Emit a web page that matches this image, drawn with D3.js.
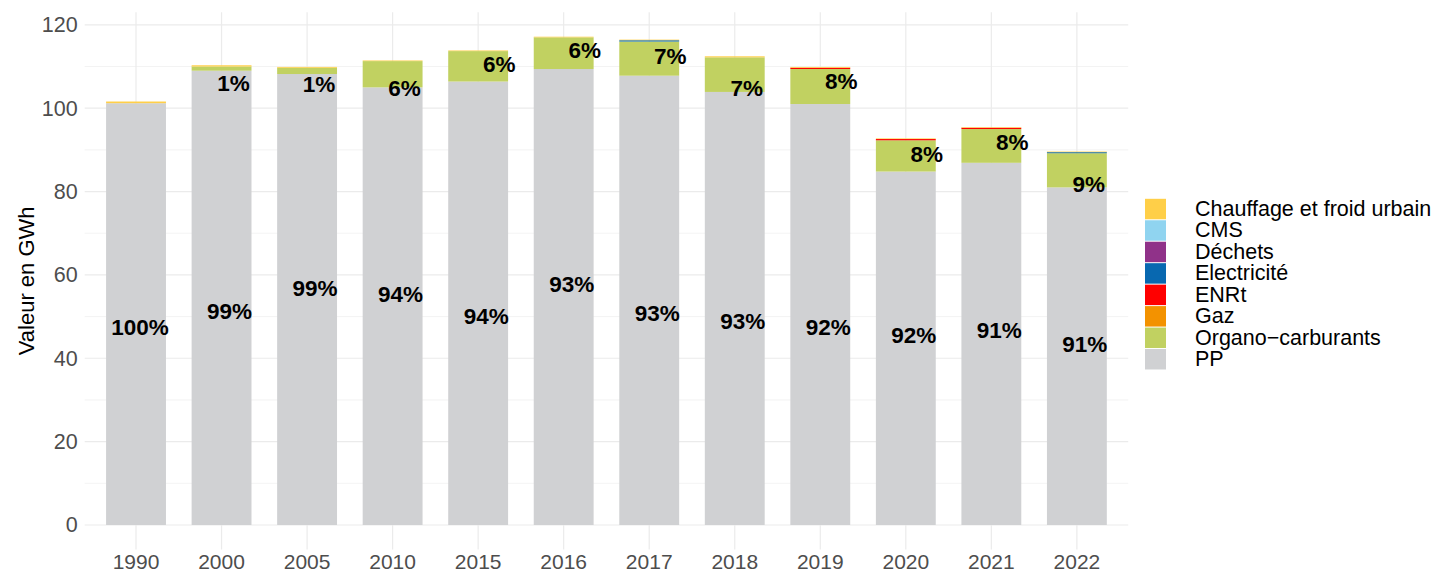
<!DOCTYPE html>
<html>
<head>
<meta charset="utf-8">
<script src="https://cdn.jsdelivr.net/npm/d3@7"></script>
<style>
  body { margin: 0; background: #fff; }
  svg text { font-family: "Liberation Sans", Arial, sans-serif; }
</style>
</head>
<body>
<div id="chart"></div>
<script>
const WIDTH = 1439
const HEIGHT = 574

// categories and series (bottom to top of each stack)
const YEARS = ["1990", "2000", "2005", "2010", "2015", "2016", "2017", "2018", "2019", "2020", "2021", "2022"]
const SERIES = ["PP", "Organo\u2212carburants", "Gaz", "ENRt", "Electricit\u00e9", "D\u00e9chets", "CMS", "Chauffage et froid urbain"]

const PP = [101.2, 109.0, 108.2, 105.0, 106.4, 109.4, 107.8, 103.9, 101.0, 84.8, 86.9, 81.0]
const ORGANO = [0, 1.0, 1.5, 6.3, 7.3, 7.6, 8.2, 8.3, 8.4, 7.5, 8.1, 8.2]
const GAZ = [0, 0, 0, 0, 0, 0, 0, 0, 0, 0, 0, 0]
const ENRT = [0, 0, 0, 0, 0, 0, 0, 0, 0.3, 0.3, 0.3, 0]
const ELEC = [0, 0, 0, 0, 0, 0, 0.3, 0, 0, 0, 0, 0.25]
const DECHETS = [0, 0, 0, 0, 0, 0, 0, 0, 0, 0, 0, 0]
const CMS = [0, 0, 0, 0, 0, 0, 0, 0, 0, 0, 0, 0]
const CHAUFFAGE = [0.4, 0.3, 0.2, 0.15, 0.15, 0.15, 0.15, 0.25, 0.2, 0.15, 0.15, 0.15]

// labels as printed on the chart, with the value where each one sits
const PP_PCT = ["100%", "99%", "99%", "94%", "94%", "93%", "93%", "93%", "92%", "92%", "91%", "91%"]
const PP_LABEL_AT = [47.4, 51.2, 56.8, 55.4, 50.0, 57.6, 50.8, 48.8, 47.4, 45.4, 46.6, 43.4]
const ORG_PCT = [null, "1%", "1%", "6%", "6%", "6%", "7%", "7%", "8%", "8%", "8%", "9%"]
const ORG_LABEL_AT = [null, 105.9, 105.7, 104.8, 110.4, 113.8, 112.3, 104.7, 106.4, 89.0, 91.8, 81.8]
const ORG_NUDGE = [0, 12, 12, 12, 21, 21, 21, 12, 21, 21, 21, 12]

const Y_TICKS = [0, 20, 40, 60, 80, 100, 120]
const Y_MINOR = [10, 30, 50, 70, 90, 110]

const COLORS = {
  "PP": "#d0d1d3",
  "Organo\u2212carburants": "#c1d161",
  "Gaz": "#f39200",
  "ENRt": "#ff0000",
  "Electricit\u00e9": "#0868b0",
  "D\u00e9chets": "#903289",
  "CMS": "#90d4f0",
  "Chauffage et froid urbain": "#ffcf48"
}

const cols = [PP, ORGANO, GAZ, ENRT, ELEC, DECHETS, CMS, CHAUFFAGE]
const rows = YEARS.map((y, i) => {
  const r = { year: y }
  SERIES.forEach((s, j) => r[s] = cols[j][i])
  return r
})
const stacked = d3.stack().keys(SERIES)(rows)
const totals = rows.map((r) => d3.sum(SERIES, (s) => r[s]))

const PANEL_LEFT = 84.7
const PANEL_RIGHT = 1128.2
const PANEL_TOP = 12.3
const PANEL_BOTTOM = 549.4

const maxTotal = d3.max(totals)
const yScale = d3.scaleLinear()
  .domain([-maxTotal * 0.05, maxTotal * 1.05])
  .range([PANEL_BOTTOM, PANEL_TOP])

const xScale = d3.scaleBand()
  .domain(YEARS)
  .range([PANEL_LEFT, PANEL_RIGHT])
  .paddingInner(0.3)
  .paddingOuter(0.25)

const cx = (y) => xScale(y) + xScale.bandwidth() / 2

let svg = d3.select("#chart")
  .append("svg")
  .attr("width", WIDTH)
  .attr("height", HEIGHT)

// grid
const grid = svg.append("g")
grid.selectAll(".minor")
  .data(Y_MINOR)
  .enter()
  .append("line")
  .attr("x1", PANEL_LEFT).attr("x2", PANEL_RIGHT)
  .attr("y1", (d) => yScale(d)).attr("y2", (d) => yScale(d))
  .attr("stroke", "#ebebeb").attr("stroke-width", 0.6)
grid.selectAll(".major")
  .data(Y_TICKS)
  .enter()
  .append("line")
  .attr("x1", PANEL_LEFT).attr("x2", PANEL_RIGHT)
  .attr("y1", (d) => yScale(d)).attr("y2", (d) => yScale(d))
  .attr("stroke", "#ebebeb").attr("stroke-width", 1.2)
grid.selectAll(".vert")
  .data(YEARS)
  .enter()
  .append("line")
  .attr("x1", cx).attr("x2", cx)
  .attr("y1", PANEL_TOP).attr("y2", PANEL_BOTTOM)
  .attr("stroke", "#ebebeb").attr("stroke-width", 1.2)

// bars
svg.append("g")
  .selectAll("g")
  .data(stacked)
  .enter()
  .append("g")
  .attr("fill", (d) => COLORS[d.key])
  .selectAll("rect")
  .data((d) => d)
  .enter()
  .append("rect")
  .attr("x", (d) => xScale(d.data.year))
  .attr("y", (d) => yScale(d[1]))
  .attr("width", xScale.bandwidth())
  .attr("height", (d) => Math.max(0, yScale(d[0]) - yScale(d[1])))

// percentage labels
const labels = svg.append("g")
  .attr("font-weight", "bold")
  .attr("font-size", "22.5px")
  .attr("fill", "#000")
  .attr("text-anchor", "middle")
  .attr("dominant-baseline", "central")

labels.selectAll(".pp")
  .data(YEARS)
  .enter()
  .append("text")
  .attr("x", (d, i) => cx(d) + (i === 0 ? 4 : 8))
  .attr("y", (d, i) => yScale(PP_LABEL_AT[i]))
  .text((d, i) => PP_PCT[i])

labels.selectAll(".org")
  .data(YEARS.filter((d, i) => ORG_PCT[i] !== null))
  .enter()
  .append("text")
  .attr("x", (d) => cx(d) + ORG_NUDGE[YEARS.indexOf(d)])
  .attr("y", (d) => yScale(ORG_LABEL_AT[YEARS.indexOf(d)]))
  .text((d) => ORG_PCT[YEARS.indexOf(d)])

// axes (ggplot minimal: no lines, no ticks)
const yAxis = d3.axisLeft(yScale).tickValues(Y_TICKS).tickSize(0).tickPadding(7)
svg.append("g")
  .attr("transform", `translate(${PANEL_LEFT},0)`)
  .call(yAxis)
  .call((g) => g.select(".domain").remove())
  .selectAll("text")
  .attr("font-size", "21.5px")
  .attr("fill", "#4d4d4d")
  .style("font-family", "Liberation Sans, Arial, sans-serif")

const xAxis = d3.axisBottom(xScale).tickSize(0).tickPadding(5)
svg.append("g")
  .attr("transform", `translate(0,${PANEL_BOTTOM})`)
  .call(xAxis)
  .call((g) => g.select(".domain").remove())
  .selectAll("text")
  .attr("font-size", "21px")
  .attr("fill", "#4d4d4d")
  .style("font-family", "Liberation Sans, Arial, sans-serif")

svg.append("text")
  .attr("transform", `translate(34,${(PANEL_TOP + PANEL_BOTTOM) / 2}) rotate(-90)`)
  .attr("text-anchor", "middle")
  .attr("font-size", "22px")
  .attr("fill", "#000")
  .text("Valeur en GWh")

// legend (top entry is the last series)
const legendItems = SERIES.slice().reverse()
const KEY = 21.46
const legend = svg.append("g")
  .attr("transform", "translate(1145,198.3)")

legend.selectAll("rect")
  .data(legendItems)
  .enter()
  .append("rect")
  .attr("x", 0)
  .attr("y", (d, i) => i * KEY + 0.5)
  .attr("width", 21)
  .attr("height", KEY - 1)
  .attr("fill", (d) => COLORS[d])

legend.selectAll("text")
  .data(legendItems)
  .enter()
  .append("text")
  .attr("x", 50)
  .attr("y", (d, i) => i * KEY + KEY / 2)
  .attr("dominant-baseline", "central")
  .attr("font-size", "21.5px")
  .attr("fill", "#000")
  .text((d) => d)
</script>
</body>
</html>
